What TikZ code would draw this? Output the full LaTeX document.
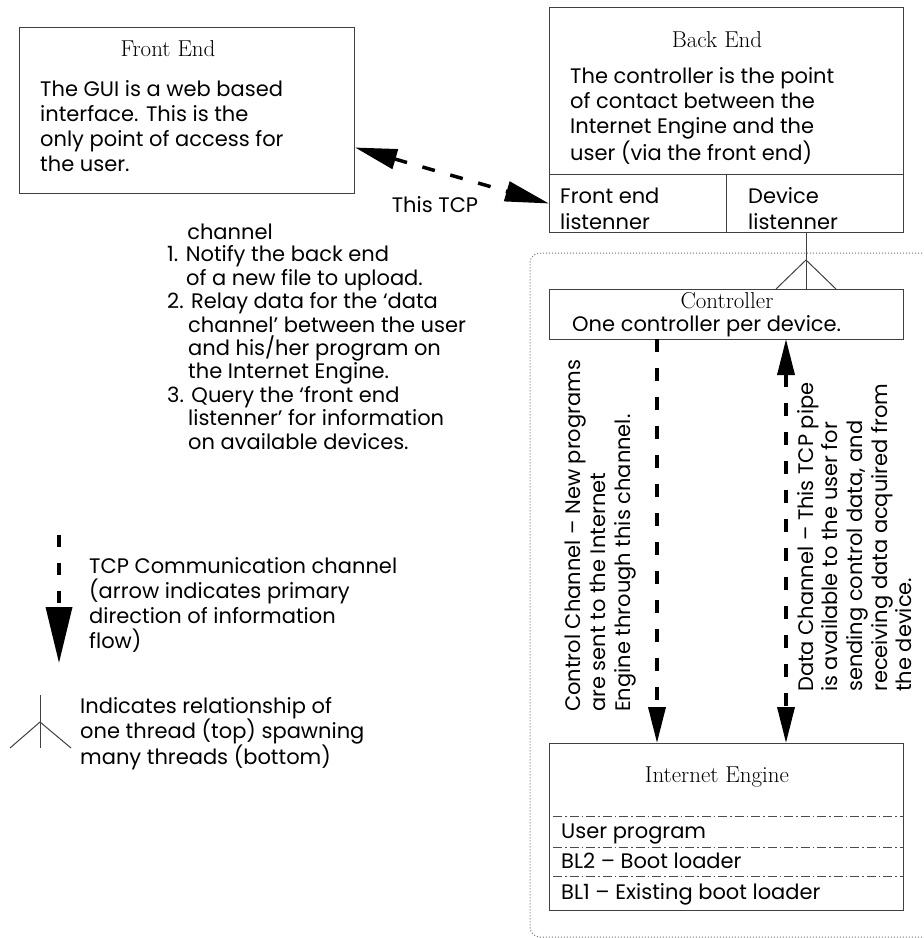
\documentclass[tikz,border=0pt]{standalone}
\usepackage{fontspec}
\setsansfont{Poppins}
\usetikzlibrary{arrows.meta}
\tikzset{
  box/.style={draw=black!75, line width=1pt, inner sep=0pt, anchor=north west},
  title/.style={font=\rmfamily\fontsize{23}{26}\selectfont, inner sep=0pt, anchor=base},
  txt/.style={font=\sffamily\fontsize{21}{24.7}\selectfont, align=left, inner sep=0pt, anchor=base west},
  tcp/.style={line width=3.5pt, dash pattern=on 13pt off 16pt},
  spawn/.style={draw=black!75, line width=1pt},
}
\begin{document}
\begin{tikzpicture}[x=1pt, y=1pt]
  \useasboundingbox (0,0) rectangle (924,-938);
  % front end
  \node[box, minimum width=335, minimum height=166] (fe) at (19,-27) {};
  \node[title] (fet) at (168,-56) {Front End};
  \node[txt] (fetx) at (40,-171) {The GUI is a web based\\interface. This is the\\only point of access for\\the user.};
  % back end
  \node[box, minimum width=354, minimum height=167] (be) at (549,-7) {};
  \node[box, minimum width=177, minimum height=58] (fel) at (549,-174) {};
  \node[box, minimum width=177, minimum height=58] (dl) at (726,-174) {};
  \node[title] (bet) at (717,-47) {Back End};
  \node[txt, font=\sffamily\fontsize{21}{25}\selectfont] (betx) at (570,-160) {The controller is the point\\of contact between the\\Internet Engine and the\\user (via the front end)};
  \node[txt, font=\sffamily\fontsize{21}{26}\selectfont] (felt) at (560,-229) {Front end\\listenner};
  \node[txt, font=\sffamily\fontsize{21}{26}\selectfont] (dlt) at (748,-229) {Device\\listenner};
  % channel between front and back end
  \draw[tcp, {Triangle[length=42pt, width=20pt]}-{Triangle[length=44pt, width=20pt]}]
    ([yshift=-37]fe.east) -- (fel.west);
  \node[txt, anchor=center] (tcpa) at (435,-205) {This TCP};
  \node[txt, anchor=center] (tcpb) at (230,-232) {channel};
  \node[txt, font=\sffamily\fontsize{21}{23.4}\selectfont] (lst) at (167,-449)
    {1. Notify the back end\\\hspace*{19pt}of a new file to upload.\\2. Relay data for the `data\\\hspace*{21pt}channel' between the user\\\hspace*{21pt}and his/her program on\\\hspace*{21pt}the Internet Engine.\\3. Query the `front end\\\hspace*{21pt}listenner' for information\\\hspace*{21pt}on available devices.};
  % device side
  \draw[black!55, dotted, line width=1pt, rounded corners=10pt] (940,-253) -- (530,-253) -- (530,-937) -- (940,-937);
  \node[box, minimum width=354, minimum height=50] (ctrl) at (549,-289) {};
  \node[title] (ctrlt) at (727,-308) {Controller};
  \node[txt] (ctrltx) at (572,-331) {One controller per device.};
  \coordinate (sp) at (806,-260);
  \draw[spawn] (sp |- dl.south) -- (sp |- ctrl.north);
  \draw[spawn] ([xshift=-30]sp |- ctrl.north) -- (sp) -- ([xshift=30]sp |- ctrl.north);
  % internet engine
  \node[box, minimum width=354, minimum height=167] (ie) at (549,-743) {};
  \node[title] (iet) at (717,-782) {Internet Engine};
  \foreach \y in {816,847,876}
    \draw[black!70, dash pattern=on 9pt off 3pt on 1.5pt off 3pt, line width=0.8pt] (553,-\y) -- (ie.east |- 0,-\y);
  \node[txt] (up) at (561,-838) {User program};
  \node[txt] (bl2) at (561,-868) {BL2 -- Boot loader};
  \node[txt] (bl1) at (561,-899) {BL1 -- Existing boot loader};
  % channels
  \coordinate (cc) at (657,-339);
  \coordinate (dc) at (786,-339);
  \draw[tcp, -{Triangle[length=36pt, width=17pt]}] (cc) -- (cc |- ie.north);
  \draw[tcp, {Triangle[length=36pt, width=17pt]}-{Triangle[length=36pt, width=17pt]}] (dc) -- (dc |- ie.north);
  \node[txt, rotate=90, anchor=north west] (cctx) at (565,-712)
    {Control Channel -- New programs\\are sent to the Internet\\Engine through this channel.};
  \node[txt, rotate=90, anchor=north west] (dctx) at (797,-692)
    {Data Channel -- This TCP pipe\\is available to the user for\\sending control data, and\\receiving data acquired from\\the device.};
  % legend
  \coordinate (la) at (59,-535);
  \draw[tcp, dash pattern=on 12pt off 16pt, -{Triangle[length=56pt, width=26pt]}] (la) -- ++(0,-128);
  \node[txt, font=\sffamily\fontsize{21}{25}\selectfont] (ltcp) at (89,-648)
    {TCP Communication channel\\(arrow indicates primary\\direction of information\\flow)};
  \coordinate (ls) at (40,-722);
  \draw[spawn] (40,-695) -- (40,-748);
  \draw[spawn] (10,-748) -- (ls) -- (71,-748);
  \node[txt, font=\sffamily\fontsize{21}{25.5}\selectfont] (lsp) at (80,-764)
    {Indicates relationship of\\one thread (top) spawning\\many threads (bottom)};
\end{tikzpicture}
\end{document}
